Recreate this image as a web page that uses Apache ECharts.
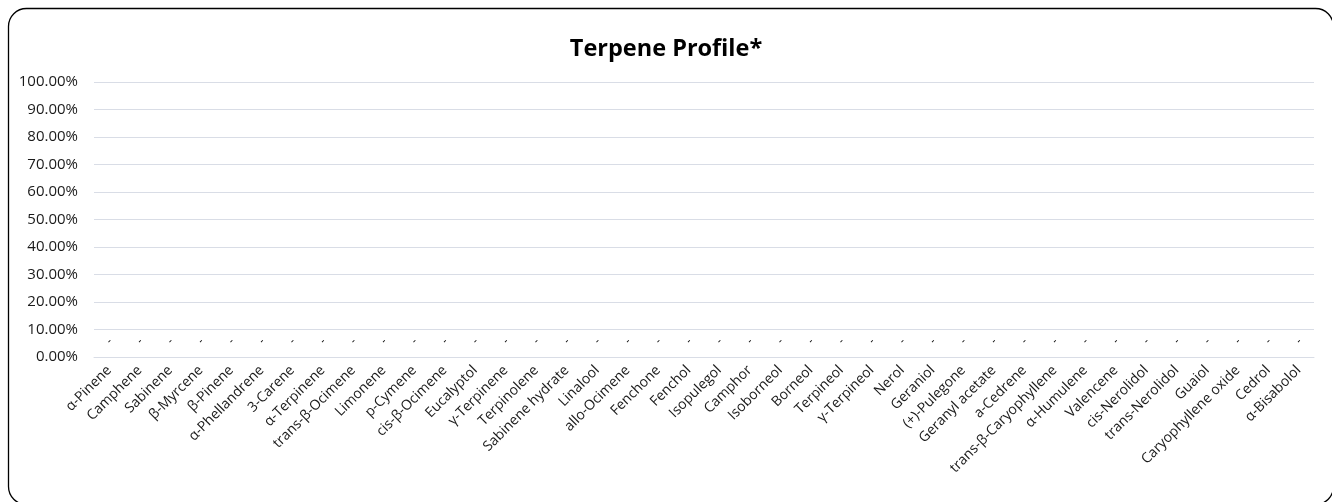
<!DOCTYPE html>
<html><head><meta charset="utf-8">
<script src="https://cdn.jsdelivr.net/npm/echarts@6/dist/echarts.min.js"></script>
<style>html,body{margin:0;padding:0;background:#fff}#c{width:1332px;height:502px}</style>
</head><body><div id="c"></div>
<script>
const categories = ["α-Pinene","Camphene","Sabinene","β-Myrcene","β-Pinene","α-Phellandrene","3-Carene","α-Terpinene","trans-β-Ocimene","Limonene","p-Cymene","cis-β-Ocimene","Eucalyptol","γ-Terpinene","Terpinolene","Sabinene hydrate","Linalool","allo-Ocimene","Fenchone","Fenchol","Isopulegol","Camphor","Isoborneol","Borneol","Terpineol","γ-Terpineol","Nerol","Geraniol","(+)-Pulegone","Geranyl acetate","a-Cedrene","trans-β-Caryophyllene","α-Humulene","Valencene","cis-Nerolidol","trans-Nerolidol","Guaiol","Caryophyllene oxide","Cedrol","α-Bisabolol"];
const values = [0,0,0,0,0,0,0,0,0,0,0,0,0,0,0,0,0,0,0,0,0,0,0,0,0,0,0,0,0,0,0,0,0,0,0,0,0,0,0,0];
const yTicks = {min:0, max:1, interval:0.1};
const chart = echarts.init(document.getElementById('c'), null, {renderer:'canvas'});
chart.setOption({
  backgroundColor:'#fff',
  animation:false,
  title:{text:'Terpene Profile*', left:'center', top:32, textStyle:{fontFamily:'Open Sans', fontWeight:'bold', fontSize:23.5, color:'#000'}},
  graphic:[{type:'rect', shape:{x:8.5,y:8.5,width:1325,height:496,r:18}, style:{fill:'none', stroke:'#000', lineWidth:1.3}, z:-1}],
  grid:{left:94, right:18, top:82, bottom:145, containLabel:false},
  xAxis:{type:'category', data:categories, axisLine:{show:true, lineStyle:{color:'#d9dde6'}}, axisTick:{show:false},
    axisLabel:{interval:0, rotate:45, fontFamily:'Open Sans', fontSize:14, color:'#1a1a1a', margin:11}},
  yAxis:{type:'value', min:yTicks.min, max:yTicks.max, interval:yTicks.interval,
    axisLabel:{formatter:v=>(v*100).toFixed(2)+'%', fontFamily:'Open Sans', fontSize:15, color:'#1a1a1a', margin:16},
    splitLine:{lineStyle:{color:'#d9dde6'}}, axisLine:{show:false}, axisTick:{show:false}},
  series:[{type:'bar', data:values, barWidth:'60%', itemStyle:{color:'#4472c4'},
    label:{show:true, position:'insideBottom', formatter:'-', rotate:45, align:'center', verticalAlign:'middle', offset:[7.8,-7.8], fontFamily:'Open Sans', fontSize:11, color:'#000'}}]
});
</script></body></html>
